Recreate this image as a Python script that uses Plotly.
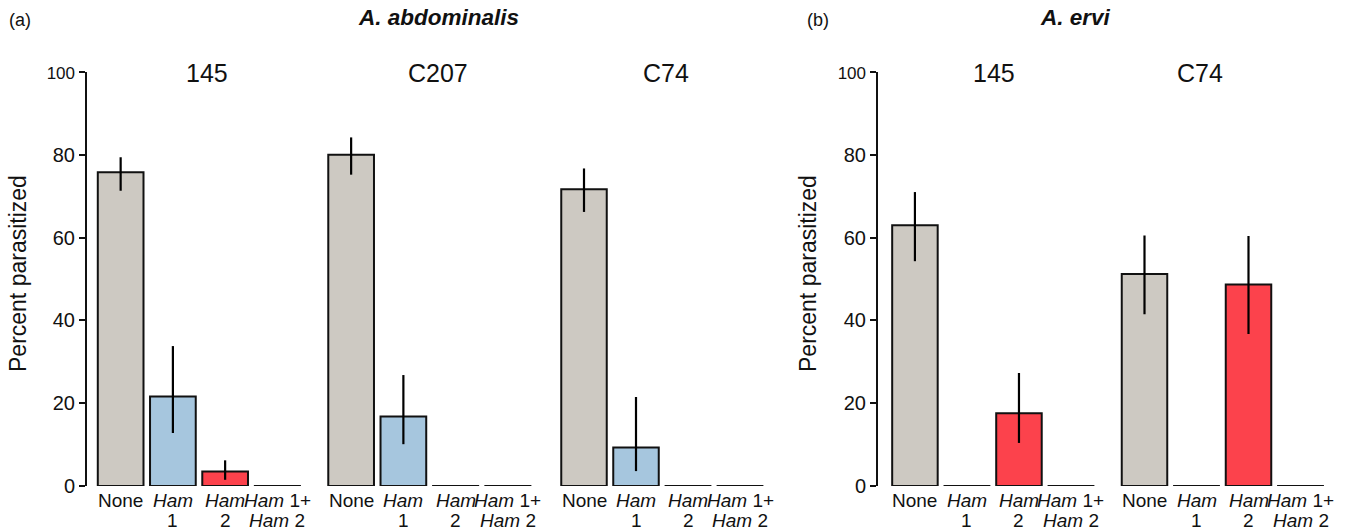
import plotly.graph_objects as go

W, H = 1352, 530

categories = ["None", "Ham1", "Ham2", "Ham1+Ham2"]
label_line1 = ["None", "<i>Ham</i>", "<i>Ham</i>", "<i>Ham</i> 1+"]
label_line2 = ["", "1", "2", "<i>Ham</i> 2"]
bar_colors = ["#cdc9c2", "#a6c6de", "#fc424c", "#fc424c"]
y_ticks = [0, 20, 40, 60, 80, 100]

# Panel (a) A. abdominalis
a_groups = ["145", "C207", "C74"]
a_values = [[75.8, 21.6, 3.5, 0.0],
            [80.0, 16.8, 0.0, 0.0],
            [71.7, 9.3, 0.0, 0.0]]
a_err_low = [[71.3, 12.8, 1.5, 0.0],
             [75.2, 10.1, 0.0, 0.0],
             [66.2, 3.6, 0.0, 0.0]]
a_err_high = [[79.4, 33.8, 6.2, 0.0],
              [84.2, 26.8, 0.0, 0.0],
              [76.7, 21.5, 0.0, 0.0]]

# Panel (b) A. ervi
b_groups = ["145", "C74"]
b_values = [[63.0, 0.0, 17.6, 0.0],
            [51.2, 0.0, 48.7, 0.0]]
b_err_low = [[54.3, 0.0, 10.4, 0.0],
             [41.5, 0.0, 36.7, 0.0]]
b_err_high = [[71.0, 0.0, 27.3, 0.0],
              [60.5, 0.0, 60.4, 0.0]]

FONT = "Liberation Sans, Arial, sans-serif"
INK = "#111111"

fig = go.Figure()

# (panel, group index, left px, right px, range left, group-title centre px)
subplots = [
    ("a", 0, 87, 303.5, -0.644, 207),
    ("a", 1, 325, 534, -0.5, 438),
    ("a", 2, 558, 766, -0.5, 666),
    ("b", 0, 878, 1097, -0.71, 994),
    ("b", 1, 1118.5, 1326.5, -0.5, 1200),
]

y0_px, y100_px = 486, 72
ydom = [(H - y0_px) / H, (H - y100_px) / H]

annotations = []
for k, (panel, gi, left, right, rl, centre) in enumerate(subplots):
    idx = k + 1
    xa = "x" if idx == 1 else f"x{idx}"
    ya = "y" if idx == 1 else f"y{idx}"
    if panel == "a":
        vals, lo, hi, name = a_values[gi], a_err_low[gi], a_err_high[gi], a_groups[gi]
    else:
        vals, lo, hi, name = b_values[gi], b_err_low[gi], b_err_high[gi], b_groups[gi]
    xs = list(range(len(categories)))
    fig.add_trace(go.Bar(
        x=xs, y=vals, xaxis=xa, yaxis=ya,
        marker=dict(color=bar_colors, line=dict(color=INK, width=2)),
        error_y=dict(type="data", symmetric=False,
                     array=[h - v for h, v in zip(hi, vals)],
                     arrayminus=[v - l for v, l in zip(vals, lo)],
                     color="black", thickness=2.2, width=0),
        width=0.875, showlegend=False, hoverinfo="skip",
    ))
    # zero-valued bars shown as baseline segments
    for i, v in enumerate(vals):
        if v == 0:
            fig.add_trace(go.Scatter(
                x=[xs[i] - 0.45, xs[i] + 0.45], y=[v, v], xaxis=xa, yaxis=ya,
                mode="lines", line=dict(color=INK, width=2.2),
                showlegend=False, hoverinfo="skip", cliponaxis=False,
            ))
    first = (gi == 0)
    xkey = "xaxis" if idx == 1 else f"xaxis{idx}"
    ykey = "yaxis" if idx == 1 else f"yaxis{idx}"
    fig.layout[xkey] = dict(
        domain=[left / W, right / W], anchor=ya, range=[rl, 3.5],
        showticklabels=False, showline=False, showgrid=False, zeroline=False,
        ticks="", fixedrange=True, automargin=False,
    )
    ticktext = [str(t) if t != 100 else "<span style='font-size:17px'>100</span>" for t in y_ticks]
    fig.layout[ykey] = dict(
        domain=ydom, anchor=xa, range=[0, 100],
        showgrid=False, zeroline=False,
        showline=first, linecolor=INK, linewidth=2,
        ticks="outside" if first else "", ticklen=6, tickwidth=2, tickcolor=INK,
        showticklabels=first, tickmode="array", tickvals=y_ticks, ticktext=ticktext,
        tickfont=dict(family=FONT, size=20, color=INK),
        fixedrange=True, automargin=False,
    )
    # x category labels (two lines) positioned on the category axis
    for i in xs:
        annotations.append(dict(
            text=label_line1[i], x=i, xref=xa, y=(H - 500) / H, yref="paper",
            showarrow=False, xanchor="center", yanchor="middle",
            font=dict(family=FONT, size=19, color=INK)))
        if label_line2[i]:
            annotations.append(dict(
                text=label_line2[i], x=i, xref=xa, y=(H - 520) / H, yref="paper",
                showarrow=False, xanchor="center", yanchor="middle",
                font=dict(family=FONT, size=19, color=INK)))
    # group title
    annotations.append(dict(
        text=name, x=centre / W, y=(H - 73) / H, xref="paper", yref="paper",
        showarrow=False, xanchor="center", yanchor="middle",
        font=dict(family=FONT, size=25, color=INK)))

# y-axis titles
for xc in (18, 808):
    annotations.append(dict(
        text="Percent parasitized", x=xc / W, y=(H - 274) / H, xref="paper", yref="paper",
        showarrow=False, textangle=-90, xanchor="center", yanchor="middle",
        font=dict(family=FONT, size=23, color=INK)))

annotations += [
    dict(text="(a)", x=7 / W, y=(H - 20) / H, xref="paper", yref="paper", showarrow=False,
         xanchor="left", yanchor="middle", font=dict(family=FONT, size=18, color=INK)),
    dict(text="<b><i>A. abdominalis</i></b>", x=438 / W, y=(H - 18) / H, xref="paper", yref="paper",
         showarrow=False, xanchor="center", yanchor="middle",
         font=dict(family=FONT, size=22.5, color=INK)),
    dict(text="(b)", x=805 / W, y=(H - 20) / H, xref="paper", yref="paper", showarrow=False,
         xanchor="left", yanchor="middle", font=dict(family=FONT, size=18, color=INK)),
    dict(text="<b><i>A. ervi</i></b>", x=1075 / W, y=(H - 18) / H, xref="paper", yref="paper",
         showarrow=False, xanchor="center", yanchor="middle",
         font=dict(family=FONT, size=22.5, color=INK)),
]

fig.update_layout(
    template="none",
    width=W, height=H, margin=dict(l=0, r=0, t=0, b=0, pad=0),
    paper_bgcolor="white", plot_bgcolor="white",
    annotations=annotations, bargap=0.125, showlegend=False,
    font=dict(family=FONT, color=INK),
)

fig.write_html("out.html", config={"displayModeBar": False})
